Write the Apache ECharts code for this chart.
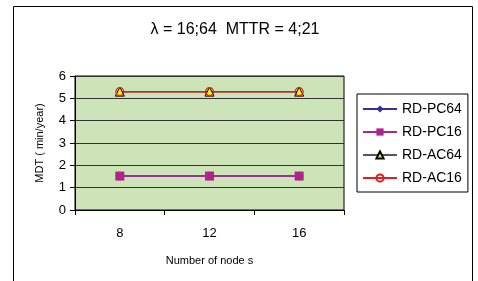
<!DOCTYPE html>
<html>
<head>
<meta charset="utf-8">
<script src="https://cdn.jsdelivr.net/npm/echarts@6/dist/echarts.min.js"></script>
<style>
  html, body { margin: 0; padding: 0; background: #fff; }
  #chart { width: 478px; height: 281px; }
</style>
</head>
<body>
<div id="chart"></div>
<script>
    var nodes = ['8', '12', '16'];
    var rdPc64 = [1.52, 1.52, 1.52];
    var rdPc16 = [1.52, 1.52, 1.52];
    var rdAc64 = [5.3, 5.3, 5.3];
    var rdAc16 = [5.3, 5.3, 5.3];

    var chart = echarts.init(document.getElementById('chart'));
    var font = 'Liberation Sans, Arial, sans-serif';
    chart.setOption({
        animation: false,
        backgroundColor: '#fff',
        title: {
            text: 'λ = 16;64  MTTR = 4;21',
            left: 230, top: 17, textAlign: 'center',
            textStyle: { fontFamily: font, fontSize: 16, fontWeight: 'normal', color: '#000' }
        },
        graphic: [{
            type: 'polyline',
            shape: { points: [[13.5, 281], [13.5, 6.5], [472.5, 6.5], [472.5, 281]] },
            style: { stroke: '#000', lineWidth: 1, fill: null },
            silent: true
        }],
        legend: {
            orient: 'vertical',
            left: 357, top: 94,
            padding: [8, 6, 7, 5],
            itemGap: 9,
            itemWidth: 34, itemHeight: 9,
            borderColor: '#000', borderWidth: 1,
            backgroundColor: '#fff',
            textStyle: { fontFamily: font, fontSize: 14, color: '#000' },
            data: ['RD-PC64', 'RD-PC16', 'RD-AC64', 'RD-AC16']
        },
        grid: { left: 75, right: 134, top: 76, bottom: 71, show: true, backgroundColor: '#cce4b8', borderColor: '#000', borderWidth: 1 },
        xAxis: {
            type: 'category',
            data: nodes,
            boundaryGap: true,
            name: 'Number of node s',
            nameLocation: 'middle',
            nameGap: 45,
            nameTextStyle: { fontFamily: font, fontSize: 11, color: '#000' },
            axisLine: { lineStyle: { color: '#000' } },
            axisTick: { show: true, length: 5, lineStyle: { color: '#000' } },
            axisLabel: { fontFamily: font, fontSize: 13, color: '#000', margin: 17 }
        },
        yAxis: {
            type: 'value',
            min: 0, max: 6, interval: 1,
            name: 'MDT ( min/year)',
            nameLocation: 'middle',
            nameGap: 30,
            nameTextStyle: { fontFamily: font, fontSize: 11, color: '#000' },
            axisLine: { show: true, lineStyle: { color: '#000' } },
            axisTick: { show: true, length: 5, lineStyle: { color: '#000' } },
            axisLabel: { fontFamily: font, fontSize: 13, color: '#000', margin: 9 },
            splitLine: { lineStyle: { color: '#333', width: 1 } }
        },
        series: [
            { name: 'RD-PC64', type: 'line', data: rdPc64, symbol: 'diamond', symbolSize: 9,
              lineStyle: { color: '#333399', width: 1.5 }, itemStyle: { color: '#333399' } },
            { name: 'RD-PC16', type: 'line', data: rdPc16, symbol: 'rect', symbolSize: 9,
              lineStyle: { color: '#b0228c', width: 1.5 }, itemStyle: { color: '#b0228c' } },
            { name: 'RD-AC64', type: 'line', data: rdAc64, symbol: 'triangle', symbolSize: 9,
              lineStyle: { color: '#555', width: 1.5 }, itemStyle: { color: '#ffee00', borderColor: '#000', borderWidth: 1 } },
            { name: 'RD-AC16', type: 'line', data: rdAc16, symbol: 'circle', symbolSize: 8,
              lineStyle: { color: '#e02020', width: 1.5 }, itemStyle: { color: 'rgba(0,0,0,0)', borderColor: '#e02020', borderWidth: 1.2 } }
        ]
    });
</script>
</body>
</html>
